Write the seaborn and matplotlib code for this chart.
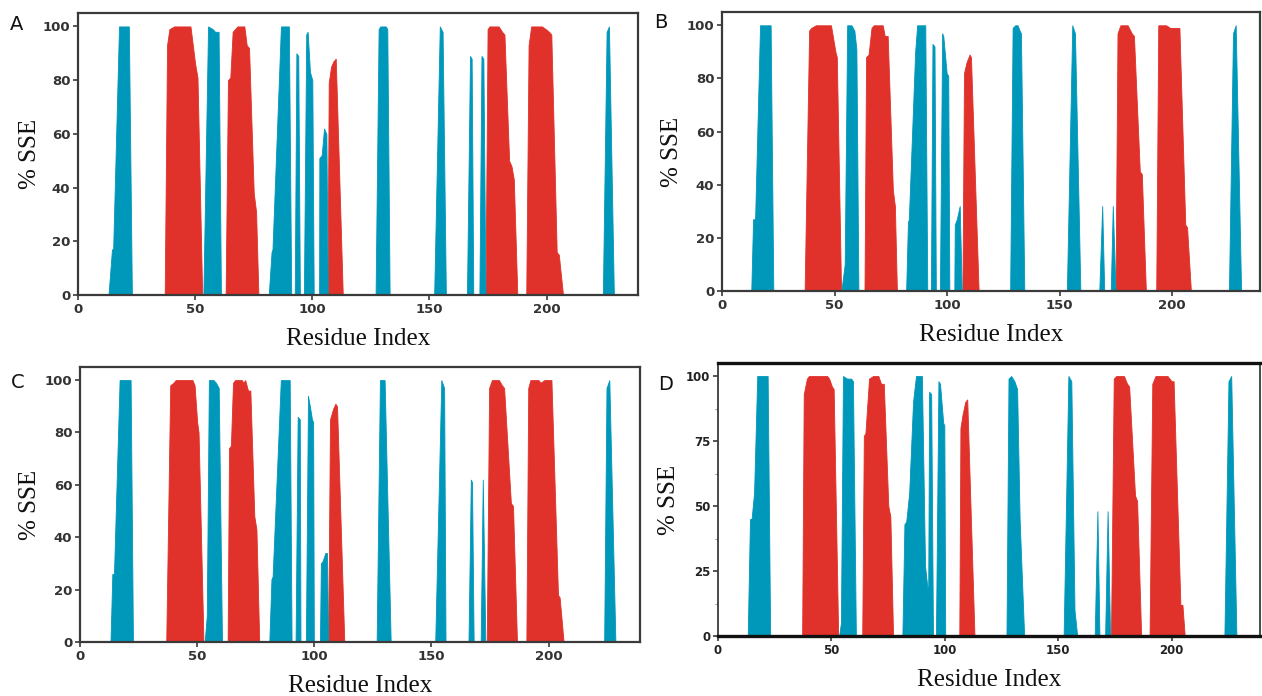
import numpy as np
import pandas as pd
import matplotlib
matplotlib.use("Agg")
import matplotlib.pyplot as plt
import seaborn as sns

# ---------------- data (breakpoints of % SSE profiles) ----------------
# Panel A
A_helix_x = [0, 37, 38, 39, 41, 48, 50, 51, 53,
             63, 64, 65, 66, 68, 71, 72, 73, 75, 76, 77,
             106.5, 107, 108, 109, 110, 113,
             173.9, 174.8, 175.6, 179.5, 181, 182, 184, 185, 186, 187.5,
             191.3, 192.3, 193.4, 198, 199.6, 201, 202, 204.3, 205.2, 207, 232]
A_helix_y = [0, 0, 93, 99, 100, 100, 86, 81, 0,
             0, 80, 81, 98, 100, 100, 93, 92, 38, 31, 0,
             0, 79, 85, 87, 88, 0,
             0, 99, 100, 100, 98, 97, 50, 48, 43, 0,
             0, 93, 100, 100, 99, 98, 97, 16, 15, 0, 0]
A_strand_x = [0, 13, 14.5, 15, 17.5, 21.7, 23,
              53.5, 55.5, 57.5, 58.5, 60, 61,
              81.4, 82.6, 83, 86.6, 90, 91,
              92.5, 93.2, 94, 94.7,
              96.4, 97.4, 98, 99, 100, 100.6,
              102.9, 103, 104, 105, 106, 106.6,
              127, 128.3, 129, 131.3, 132, 133,
              152, 154.4, 155.6, 157,
              166, 167.3, 168, 168.7,
              171.3, 172.2, 173, 173.9,
              224, 225.6, 226.6, 228.7, 232]
A_strand_y = [0, 0, 17, 17, 100, 100, 0,
              0, 100, 99, 98, 98, 0,
              0, 16, 17, 100, 100, 0,
              0, 90, 89, 0,
              0, 97, 98, 83, 80, 0,
              0, 51, 52, 62, 60, 0,
              0, 99, 100, 100, 99, 0,
              0, 100, 98, 0,
              0, 89, 88, 0,
              0, 89, 88, 0,
              0, 98, 100, 0, 0]

# Panel B
B_helix_x = [0, 36.7, 38.7, 39.6, 41.7, 48.4, 50.4, 51, 52.9,
             63.3, 64, 65.1, 66.4, 67.4, 71.4, 72.3, 73.6, 75.9, 76.8, 77.7,
             106.8, 107.5, 108.6, 110, 110.6, 114,
             174.8, 175.7, 177, 180.2, 182, 183, 185.6, 186.5, 188.3,
             192.9, 193.8, 197.3, 199.1, 203.2, 205.8, 206.6, 208.3, 232]
B_helix_y = [0, 0, 98, 99, 100, 100, 90, 88, 0,
             0, 88, 89, 99, 100, 100, 96, 96, 38, 32, 0,
             0, 82, 86, 89, 88, 0,
             0, 97, 100, 100, 97, 96, 45, 44, 0,
             0, 100, 100, 99, 99, 25, 24, 0, 0]
B_strand_x = [0, 13, 13.8, 14.7, 16.9, 21.6, 22.8,
              53, 54.5, 55.6, 57.5, 58.8, 59.7, 60.6,
              81.8, 82.6, 83, 85.8, 86.7, 90.3, 91.2,
              92.8, 93.5, 94.4, 95,
              96.8, 97.8, 98.3, 99.8, 100.5, 101,
              103.2, 103.4, 104.3, 105.6, 106.5,
              128, 129.1, 130.2, 131.3, 132.2, 132.8, 134.3,
              153.2, 155.6, 156.8, 159.2,
              167.6, 168.9, 169.8,
              172.7, 173.6, 174.8,
              225.2, 227, 228.2, 230.6, 232]
B_strand_y = [0, 0, 27, 27, 100, 100, 0,
              0, 10, 100, 100, 98, 91, 0,
              0, 26, 27, 90, 100, 100, 0,
              0, 93, 92, 0,
              0, 97, 96, 82, 81, 0,
              0, 25, 27, 32, 0,
              0, 99, 100, 100, 98, 97, 0,
              0, 100, 97, 0,
              0, 32, 0,
              0, 32, 0,
              0, 97, 100, 0, 0]

# Panel C
C_helix_x = [0, 36.8, 38.5, 39.9, 40.8, 48, 48.9, 50, 50.6, 52.7,
             63, 63.6, 64.4, 65.3, 66.2, 69.1, 69.7, 70.5, 71.7, 72.7, 74.4, 75.3, 76.5,
             105.9, 106.7, 108, 109, 109.7, 112.8,
             173.6, 174.6, 175.8, 178.8, 180.1, 181, 183.9, 184.8, 186.5,
             190.5, 191.3, 192.2, 195.7, 196.5, 198.2, 201.2, 204, 204.7, 206.4, 232]
C_helix_y = [0, 0, 98, 99, 100, 100, 98, 84, 80, 0,
             0, 74, 75, 99, 100, 100, 99, 100, 96, 96, 48, 43, 0,
             0, 85, 89, 91, 90, 0,
             0, 97, 100, 100, 98, 97, 53, 52, 0,
             0, 97, 100, 100, 99, 100, 100, 18, 17, 0, 0]
C_strand_x = [0, 13, 13.8, 14.5, 16.9, 21.6, 22.6,
              53.2, 54.1, 55, 57, 58, 59.2, 60.6,
              80.8, 81.7, 82.2, 85.7, 89.5, 90.3,
              92, 92.9, 93.8, 94.1,
              96.4, 97.3, 98.1, 99, 99.5, 99.8,
              102.4, 102.8, 103.6, 104.7, 105.4, 105.9,
              126.6, 128, 130, 132.6,
              151.6, 154.2, 155.4, 156,
              165.8, 166.8, 167.3, 168,
              171, 171.9, 173,
              223.7, 224.7, 225.9, 228.5, 232]
C_strand_y = [0, 0, 26, 26, 100, 100, 0,
              0, 10, 100, 100, 99, 97, 0,
              0, 24, 25, 100, 100, 0,
              0, 86, 85, 0,
              0, 94, 90, 85, 84, 0,
              0, 30, 31, 34, 34, 0,
              0, 100, 100, 0,
              0, 100, 97, 0,
              0, 62, 61, 0,
              0, 62, 0,
              0, 97, 100, 0, 0]

# Panel D
D_helix_x = [0, 37.1, 37.8, 39.2, 40.1, 48.1, 49, 50.2, 51, 53,
             63.6, 64.3, 65, 66.6, 68.4, 70.7, 71.9, 73.1, 75.1, 76, 77.2,
             106.4, 106.9, 107.8, 109, 109.9, 113.1,
             173.3, 174.5, 175.6, 179, 180.4, 181.3, 183.9, 184.8, 186.6,
             190.3, 191.5, 192.9, 198.2, 200, 200.9, 203.9, 204.8, 205.8, 232]
D_helix_y = [0, 0, 93, 99, 100, 100, 99, 96, 95, 0,
             0, 77, 78, 99, 100, 100, 97, 97, 50, 46, 0,
             0, 80, 85, 90, 91, 0,
             0, 99, 100, 100, 97, 96, 54, 52, 0,
             0, 97, 100, 100, 98, 98, 12, 12, 0, 0]
D_strand_x = [0, 13.1, 14.1, 14.8, 15.9, 17.3, 21.9, 23,
              53.4, 54.2, 55.1, 56.9, 58.7, 59.5, 60.8,
              81.3, 82.2, 83, 84.3, 86, 87.3, 89.9, 91.3, 92.4,
              92.6, 93.1, 94, 94.8,
              96.1, 97.2, 97.9, 99.3, 99.8, 100.2,
              127.2, 128.1, 129.3, 130.7, 131.9, 133, 135,
              152.4, 154.5, 155.8, 157.2, 158.4,
              166.1, 167.3, 168.2,
              170.7, 171.8, 172.9,
              223.3, 225.1, 226.3, 228.6, 232]
D_strand_y = [0, 0, 45, 45, 55, 100, 100, 0,
              0, 5, 100, 99, 99, 98, 0,
              0, 43, 44, 55, 90, 100, 100, 27, 18,
              0, 94, 93, 0,
              0, 98, 97, 82, 81, 0,
              0, 99, 100, 98, 95, 45, 0,
              0, 100, 98, 10, 0,
              0, 48, 0,
              0, 48, 0,
              0, 98, 100, 0, 0]

panel_letters = ["A", "B", "C", "D"]
xticks = [0, 50, 100, 150, 200]
yticks_abc = [0, 20, 40, 60, 80, 100]
yticks_d = [0, 25, 50, 75, 100]

# ---------------- styling ----------------
sns.set_theme(style="white")
plt.rcParams["font.family"] = ["DejaVu Sans"]

RED = "#E0312B"
BLUE = "#0098BA"
SPINE = "#3a3a3a"
SERIF = ["Liberation Serif", "DejaVu Serif"]

fig = plt.figure(figsize=(12.62, 6.96), dpi=100)

# axes rectangles in figure fractions (left, bottom, width, height)
rects = {
    "A": (78 / 1262, 1 - 295 / 696, 560 / 1262, 282 / 696),
    "B": (722 / 1262, 1 - 291 / 696, 538 / 1262, 279 / 696),
    "C": (80 / 1262, 1 - 642 / 696, 560 / 1262, 275 / 696),
    "D": (718 / 1262, 1 - 636 / 696, 542 / 1262, 273 / 696),
}
letter_pos = {"A": (10, 30), "B": (654, 28), "C": (11, 388), "D": (658, 390)}
ylabel_pad = {"A": 1, "B": 3, "C": 3, "D": 4}

data = {
    "A": (A_helix_x, A_helix_y, A_strand_x, A_strand_y),
    "B": (B_helix_x, B_helix_y, B_strand_x, B_strand_y),
    "C": (C_helix_x, C_helix_y, C_strand_x, C_strand_y),
    "D": (D_helix_x, D_helix_y, D_strand_x, D_strand_y),
}

for key in panel_letters:
    ax = fig.add_axes(rects[key])
    hx, hy, sx, sy = data[key]
    df = pd.concat([
        pd.DataFrame({"res": hx, "sse": hy, "sse_type": "Helix"}),
        pd.DataFrame({"res": sx, "sse": sy, "sse_type": "Strand"}),
    ], ignore_index=True)
    palette = {"Helix": RED, "Strand": BLUE}
    # invisible seaborn line layer to register the data on the axes scales
    sns.lineplot(data=df, x="res", y="sse", hue="sse_type", palette=palette,
                 estimator=None, sort=False, units="sse_type", lw=0, ax=ax,
                 legend=False)
    for name, z in (("Helix", 1.0), ("Strand", 1.2)):
        sub = df[df["sse_type"] == name]
        ax.fill_between(sub["res"], 0, sub["sse"], facecolor=palette[name],
                        edgecolor=palette[name], lw=0.6, zorder=z)

    ax.set_xlim(0, 239)
    ax.set_ylim(0, 105)
    ax.set_xticks(xticks)
    ax.set_xticklabels([str(t) for t in xticks])
    if key == "D":
        ax.set_yticks(yticks_d)
        ax.set_yticklabels([str(t) for t in yticks_d])
        ax.set_yticks([12.5, 37.5, 62.5, 87.5], minor=True)
        ax.tick_params(axis="y", which="minor", length=2, width=0.8, color="#999999", left=True)
        for lab in ax.get_xticklabels() + ax.get_yticklabels():
            lab.set_fontsize(8.5)
            lab.set_fontweight("bold")
            lab.set_color("#222222")
        for s in ["top", "bottom"]:
            ax.spines[s].set_linewidth(2.4)
            ax.spines[s].set_color("#111111")
        for s in ["left", "right"]:
            ax.spines[s].set_linewidth(1.3)
            ax.spines[s].set_color(SPINE)
    else:
        ax.set_yticks(yticks_abc)
        ax.set_yticklabels([str(t) for t in yticks_abc])
        for lab in ax.get_xticklabels() + ax.get_yticklabels():
            lab.set_fontsize(9.5)
            lab.set_fontweight("bold")
            lab.set_color("#333333")
        for s in ax.spines.values():
            s.set_linewidth(1.6)
            s.set_color(SPINE)
    for s in ax.spines.values():
        s.set_zorder(3)
    ax.tick_params(axis="both", which="major", direction="out", length=3.5, width=1.2,
                   color=SPINE, bottom=True, left=True, pad=2)

    ax.set_xlabel("Residue Index", family=SERIF, fontsize=18, color="#111111", labelpad=9)
    ax.set_ylabel("% SSE", family=SERIF, fontsize=18, color="#111111",
                  labelpad=ylabel_pad[key])
    ax.grid(False)
    ax.set_facecolor("white")

    lx, ly = letter_pos[key]
    fig.text(lx / 1262, 1 - ly / 696, key, fontsize=14, color="#111111",
             family=["DejaVu Sans"], ha="left", va="baseline")

fig.savefig("out.png", dpi=100, facecolor="white")
